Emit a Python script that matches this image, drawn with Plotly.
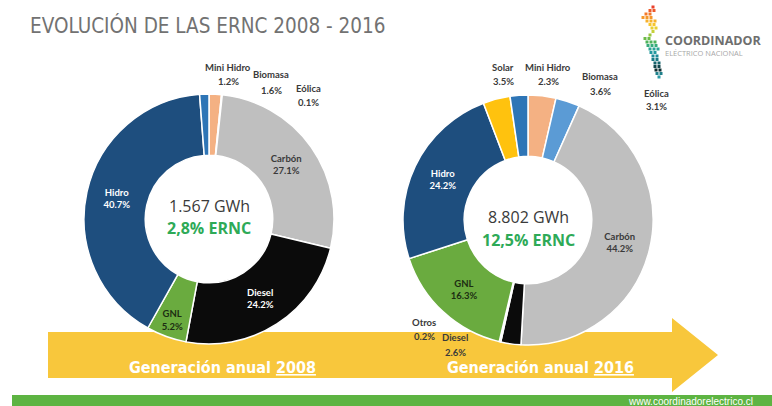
import plotly.graph_objects as go

W, H = 772, 406

# ---------------- data ----------------
categories = ["Biomasa", "Eólica", "Carbón", "Diesel", "Otros", "GNL", "Hidro", "Solar", "Mini Hidro"]
share_2008 = [1.6, 0.1, 27.1, 24.2, 0.0, 5.2, 40.7, 0.0, 1.2]
share_2016 = [3.6, 3.1, 44.2, 2.6, 0.2, 16.3, 24.2, 3.5, 2.3]
years = ["2008", "2016"]
total_generation = ["1.567 GWh", "8.802 GWh"]
ernc_share = ["2,8% ERNC", "12,5% ERNC"]
title_text = "EVOLUCIÓN DE LAS ERNC 2008 - 2016"

# ---------------- styles ----------------
colors = {
    "Biomasa": "#f4b183", "Eólica": "#5b9bd5", "Carbón": "#bfbfbf",
    "Diesel": "#0b0b0b", "Otros": "#7f7f7f", "GNL": "#6aab3f",
    "Hidro": "#1e4e7e", "Solar": "#ffc20e", "Mini Hidro": "#2e75b6",
}
inside_text_color = {"Hidro": "white", "Diesel": "white", "Carbón": "#3a3a3a", "GNL": "#1c2e12"}
INSIDE_MIN = 5.0
NARROW = "DejaVu Sans Condensed, Liberation Sans Narrow, Arial"
LABEL_FONT = "Lato, Open Sans, sans-serif"

# pie geometry (pixel centres / radius)
pie_geom = [(209, 219, 125), (528, 220, 125)]
center_text_y = [(206, 228), (217, 240)]
# outside label placement: (x centre, y of name, y of value)
outside_pos = [
    {"Mini Hidro": (228, 67, 81), "Biomasa": (271, 74, 90), "Eólica": (308, 88, 102)},
    {"Solar": (503, 67, 81), "Mini Hidro": (548, 67, 81), "Biomasa": (600, 76, 91),
     "Eólica": (656, 93, 106), "Otros": (424, 322, 336), "Diesel": (455, 337, 352)},
]
arrow_text_x = [222, 540]

# logo dot pattern
logo_rows = [
    (7, [653], "#e8412c"),
    (10.5, [650, 654], "#ee5a2a"),
    (14, [646, 650], "#f27a2a"),
    (17.5, [643, 647, 651], "#f5962a"),
    (21, [647, 651, 655], "#f7b12b"),
    (24.5, [650, 654], "#f6c52d"),
    (28, [652, 656], "#e8cf32"),
    (31.5, [653], "#c6d03a"),
    (35, [650], "#9ac640"),
    (38.5, [645, 649], "#6dbb47"),
    (42, [647, 651, 655], "#4fb35a"),
    (45.5, [648, 652, 656], "#36ab7a"),
    (49, [650, 654, 658], "#2aa394"),
    (52.5, [651, 655], "#23999f"),
    (56, [653, 657], "#1f8c99"),
    (59.5, [653, 657], "#1a7b86"),
    (63, [655, 659], "#16636c"),
    (66.5, [655, 659], "#12474d"),
    (70, [656, 660], "#0f2e31"),
    (73.5, [657, 661], "#1f7f8a"),
    (77, [659], "#2a9aa6"),
]

fig = go.Figure()

# logo dots (cartesian pixel axes)
lx, ly, lc = [], [], []
for yy, xs, c in logo_rows:
    for xx in xs:
        lx.append(xx); ly.append(yy); lc.append(c)
fig.add_trace(go.Scatter(x=lx, y=ly, mode="markers",
                         marker=dict(symbol="square", size=3, color=lc, line=dict(width=0)),
                         hoverinfo="skip", showlegend=False))

for i, vals in enumerate([share_2008, share_2016]):
    labs = [c for c, v in zip(categories, vals) if v > 0]
    vs = [v for v in vals if v > 0]
    cx, cy, r = pie_geom[i]
    tpos = ["inside" if v >= INSIDE_MIN else "none" for v in vs]
    tcol = [inside_text_color.get(l, "#333333") for l in labs]
    fig.add_trace(go.Pie(
        labels=labs, values=vs, sort=False, direction="clockwise", rotation=0,
        hole=0.51,
        marker=dict(colors=[colors[l] for l in labs], line=dict(color="white", width=1.5)),
        textposition=tpos, insidetextorientation="horizontal",
        texttemplate="<b>%{label}</b><br><b>%{value:.1f}%</b>",
        textfont=dict(family=LABEL_FONT, size=9.5, color=tcol),
        domain=dict(x=[(cx - r) / W, (cx + r) / W], y=[(H - cy - r) / H, (H - cy + r) / H]),
        showlegend=False, hoverinfo="none",
    ))

shapes = [
    dict(type="path", xref="x", yref="y", layer="below",
         path="M 48 332 L 672 332 L 672 318 L 718 355 L 672 392 L 672 378 L 48 378 Z",
         fillcolor="#f8c73c", line=dict(width=0)),
    dict(type="rect", xref="x", yref="y", layer="below", x0=12, x1=W, y0=395, y1=H,
         fillcolor="#5db442", line=dict(width=0)),
]

ann = []
ann.append(dict(x=28, y=25, xref="x", yref="y", text=title_text, showarrow=False,
                xanchor="left", yanchor="middle",
                font=dict(family=NARROW, size=20.5, color="#727272")))
for i, yr in enumerate(years):
    cx, cy, r = pie_geom[i]
    ann.append(dict(x=cx, y=center_text_y[i][0], xref="x", yref="y", text=total_generation[i],
                    showarrow=False, font=dict(family="Open Sans", size=16, color="#3a3a3a")))
    ann.append(dict(x=cx, y=center_text_y[i][1], xref="x", yref="y", text="<b>" + ernc_share[i] + "</b>",
                    showarrow=False, font=dict(family="Open Sans", size=16, color="#2eaa57")))
    vals = [share_2008, share_2016][i]
    for cat, (px, yn, yv) in outside_pos[i].items():
        v = vals[categories.index(cat)]
        col = "#3a3a3a"
        for yy, t in ((yn, cat), (yv, f"{v:.1f}%")):
            ann.append(dict(x=px, y=yy, xref="x", yref="y", text="<b>" + t + "</b>", showarrow=False,
                            font=dict(family=LABEL_FONT, size=9.5, color=col)))
    ann.append(dict(x=arrow_text_x[i], y=367, xref="x", yref="y",
                    text='<b>Generación anual <span style="text-decoration:underline">' + yr + '</span></b>',
                    showarrow=False,
                    font=dict(family=NARROW, size=16, color="white")))

ann.append(dict(x=663, y=40.5, xref="x", yref="y", text="<b>COORDINADOR</b>", showarrow=False,
                xanchor="left", font=dict(family="Open Sans", size=12.5, color="#6e6e6e")))
ann.append(dict(x=663, y=53, xref="x", yref="y", text="ELÉCTRICO NACIONAL", showarrow=False,
                xanchor="left", font=dict(family="Open Sans", size=7.5, color="#a8a8a8")))
ann.append(dict(x=690, y=401, xref="x", yref="y", text="www.coordinadorelectrico.cl", showarrow=False,
                font=dict(family="Liberation Sans", size=10, color="white")))

fig.update_layout(
    width=W, height=H, margin=dict(l=0, r=0, t=0, b=0),
    paper_bgcolor="white", plot_bgcolor="white",
    xaxis=dict(range=[0, W], visible=False, fixedrange=True, domain=[0, 1]),
    yaxis=dict(range=[H, 0], visible=False, fixedrange=True, domain=[0, 1]),
    shapes=shapes, annotations=ann,
)

fig.write_html("out.html", config={"displayModeBar": False, "staticPlot": True},
               post_script="document.body.style.margin='0';document.body.style.overflow='hidden';")
